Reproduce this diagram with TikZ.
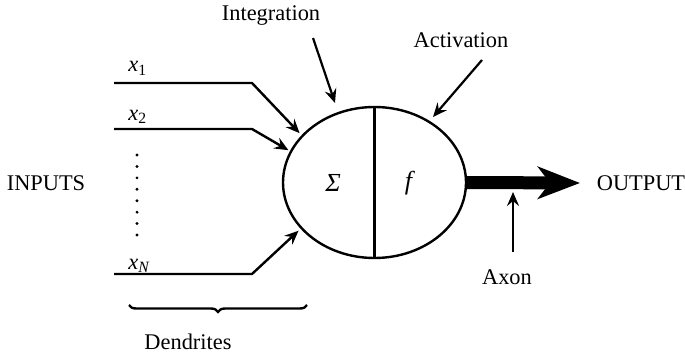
\documentclass[tikz,border=0pt]{standalone}
\usepackage{fontspec}
\setmainfont{Liberation Serif}
\usepackage{tikz}
\usetikzlibrary{arrows.meta,shapes.geometric,decorations.pathreplacing}

\begin{document}
\begin{tikzpicture}[
    x=0.5pt, y=-0.5pt,
    every node/.style={font=\fontsize{11.2}{13}\selectfont, inner sep=0pt},
    cell/.style={ellipse, draw=black, line width=1.2pt,
                 minimum width=91.5pt, minimum height=75.5pt},
    wire/.style={draw=black, line width=1.2pt, line join=miter},
    feed/.style={wire, -{Stealth[length=7pt, width=6pt, inset=2.5pt]}},
    pointer/.style={draw=black, line width=1.1pt,
                    -{Stealth[length=7pt, width=6pt, inset=2.5pt]}},
    axon/.style={draw=black, line width=6.5pt,
                 -{Stealth[length=21pt, width=16pt, inset=6pt]}},
    sym/.style={font=\fontsize{13}{15}\selectfont}
]
\useasboundingbox (0,0) rectangle (685,358);

% the neuron body
\node[cell] (neuron) at (374.5,182.5) {};
\draw[line width=1.2pt] (neuron.north) -- (neuron.south);
\node[sym] (sum) at (333,183) {\textit{Σ}};
\node[sym] (act) at (410,183) {\textit{f}};

% inputs
\node (inputs) at (46,183) {INPUTS};
\node[anchor=base west] (x1) at (128,72) {\textit{x}\textsubscript{1}};
\node[anchor=base west] (x2) at (128,120) {\textit{x}\textsubscript{2}};
\node[anchor=base west] (xn) at (128,269) {\textit{x}\textsubscript{\textit{N}}};
\foreach \i in {0,...,7}
    \fill (137,155+\i*11.43) circle (0.8pt);

\coordinate (s1) at (114,83);   \coordinate (b1) at (252,83);
\coordinate (s2) at (114,129);  \coordinate (b2) at (252,129);
\coordinate (sn) at (114,274);  \coordinate (bn) at (252,274);
\draw[feed] (s1) -- (b1) -- ([shift={(-1pt,1pt)}]neuron.147.5);
\draw[feed] (s2) -- (b2) -- ([shift={(-1pt,0pt)}]neuron.159.6);
\draw[feed] (sn) -- (bn) -- ([shift={(-1pt,-1pt)}]neuron.212.3);

% dendrites
\coordinate (dl) at (129,305);
\coordinate (dr) at (307,305);
\draw[line width=1.2pt, decorate,
      decoration={brace, mirror, amplitude=3.5pt}] (dl) -- (dr);
\node (dendrites) at (188,342) {Dendrites};

% integration / activation
\node (integ) at (271,16) {Integration};
\node (activ) at (461,40) {Activation};
\coordinate (i0) at (313,38);  \coordinate (i1) at (335,103);
\coordinate (a0) at (482,60);  \coordinate (a1) at (433,117);
\draw[pointer] (i0) -- (i1);
\draw[pointer] (a0) -- (a1);

% output
\coordinate (tip) at (580,183);
\draw[axon] (neuron.east) -- (tip);
\node (output) at (641,183) {OUTPUT};
\node (axlabel) at (507,277) {Axon};
\coordinate (ax0) at (513,252);
\coordinate (ax1) at (513,192);
\draw[pointer] (ax0) -- (ax1);
\end{tikzpicture}
\end{document}
